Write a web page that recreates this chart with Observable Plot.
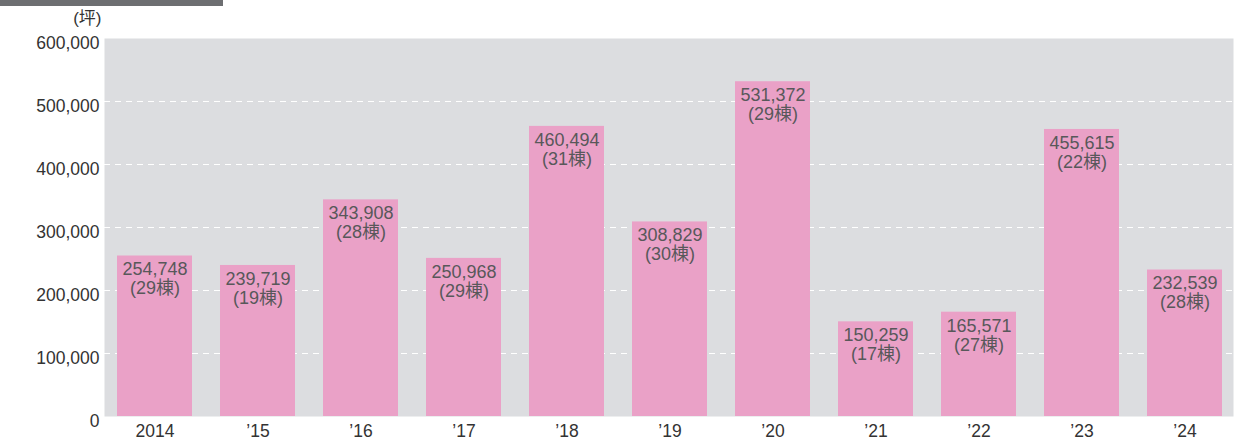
<!DOCTYPE html>
<html><head><meta charset="utf-8">
<script src="https://cdn.jsdelivr.net/npm/d3@7"></script>
<script src="https://cdn.jsdelivr.net/npm/@observablehq/plot@0.6"></script>
<style>
html,body{margin:0;padding:0;background:#fff;}
#wrap{position:relative;width:1247px;height:444px;}
#topbar{position:absolute;left:0;top:0;width:223px;height:6px;background:#6d6e71;}
svg{font-family:"Liberation Sans",Arial,"Noto Sans CJK JP",sans-serif;}
</style>
</head><body>
<div id="wrap"><div id="topbar"></div><div id="chart"></div></div>
<script>
const years = ["2014","’15","’16","’17","’18","’19","’20","’21","’22","’23","’24"];
const areas = [254748,239719,343908,250968,460494,308829,531372,150259,165571,455615,232539];
const buildings = [29,19,28,29,31,30,29,17,27,22,28];
const yTicks = [0,100000,200000,300000,400000,500000,600000];
const gridLines = [100000,200000,300000,400000,500000];
const unitLabel = ["(坪)"];

const data = years.map((y,i)=>({year:y, area:areas[i], n:buildings[i]}));
const fmt = d3.format(",");

const chart = Plot.plot({
  width:1247, height:444,
  marginLeft:104, marginRight:14, marginTop:38, marginBottom:28,
  style:{fontFamily:'"Liberation Sans",Arial,"Noto Sans CJK JP",sans-serif', background:"transparent"},
  x:{domain:years, paddingInner:0.272, paddingOuter:0.115, align:0.56, label:null},
  y:{domain:[0,600000], label:null},
  marks:[
    Plot.frame({fill:"#dcdde0", stroke:null}),
    Plot.ruleY(gridLines, {stroke:"white", strokeWidth:1, strokeDasharray:"6,5"}),
    Plot.barY(data, {x:"year", y:"area", fill:"#eaa1c7"}),
    Plot.text(data, {x:"year", y:"area", text:d=>fmt(d.area)+"\n("+d.n+"棟)", lineAnchor:"top", dy:6, fontSize:18, lineHeight:1.05, fill:"#58585a"}),
    Plot.axisY({ticks:yTicks, tickFormat:d=>fmt(d), tickSize:0, tickPadding:5, dy:5, fontSize:17.5, color:"#333", label:null}),
    Plot.axisX({tickSize:0, tickPadding:8, fontSize:17.5, color:"#333", label:null}),
    Plot.text(unitLabel, {frameAnchor:"top-left", text:d=>d, textAnchor:"end", lineAnchor:"middle", dx:-3, dy:-20, fontSize:17, fill:"#333"})
  ]
});
document.getElementById("chart").appendChild(chart);
</script>
</body></html>
